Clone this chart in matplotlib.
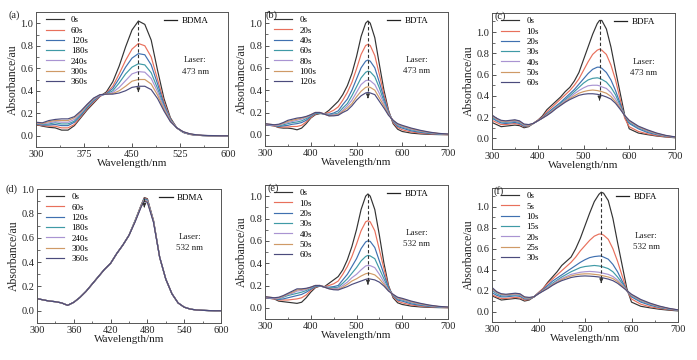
import matplotlib
matplotlib.use("Agg")
import matplotlib.pyplot as plt
from matplotlib.lines import Line2D
from matplotlib.ticker import MultipleLocator, FixedLocator

plt.rcParams['font.family'] = ['Liberation Serif', 'DejaVu Serif']

# ---------------- data ----------------
colors = ['#333333', '#e8705c', '#3f70b0', '#3f9aa6', '#a994d2', '#cf9a66', '#4b4b7c']

# (a) BDMA, 473 nm
wl_a = [300, 310, 320, 330, 340, 350, 360, 370, 380, 390, 400, 410, 420, 430, 440, 450,
        460, 470, 480, 490, 500, 510, 520, 530, 540, 550, 560, 570, 580, 590, 600]
labels_a = ['0s', '60s', '120s', '180s', '240s', '300s', '360s']
a_0 = [0.10, 0.085, 0.075, 0.07, 0.05, 0.05, 0.09, 0.16, 0.23, 0.29, 0.35, 0.39, 0.48, 0.62, 0.79, 0.94,
       1.02, 0.99, 0.85, 0.58, 0.33, 0.16, 0.07, 0.03, 0.012, 0.005, 0.002, 0.0, 0.0, 0.0, 0.0]
a_1 = [0.10, 0.09, 0.085, 0.085, 0.07, 0.07, 0.10, 0.17, 0.24, 0.30, 0.35, 0.38, 0.44, 0.55, 0.67, 0.77,
       0.82, 0.80, 0.70, 0.50, 0.30, 0.15, 0.07, 0.03, 0.013, 0.005, 0.002, 0.0, 0.0, 0.0, 0.0]
a_2 = [0.105, 0.095, 0.095, 0.10, 0.09, 0.09, 0.12, 0.18, 0.25, 0.31, 0.355, 0.375, 0.42, 0.51, 0.61, 0.69,
       0.73, 0.72, 0.63, 0.46, 0.28, 0.145, 0.07, 0.03, 0.014, 0.006, 0.002, 0.001, 0.0, 0.0, 0.0]
a_3 = [0.11, 0.10, 0.105, 0.115, 0.105, 0.105, 0.13, 0.19, 0.26, 0.32, 0.36, 0.37, 0.40, 0.47, 0.55, 0.61,
       0.64, 0.63, 0.56, 0.42, 0.26, 0.14, 0.07, 0.032, 0.015, 0.006, 0.002, 0.001, 0.0, 0.0, 0.0]
a_4 = [0.11, 0.105, 0.115, 0.125, 0.12, 0.12, 0.145, 0.20, 0.27, 0.325, 0.36, 0.37, 0.385, 0.43, 0.49, 0.55,
       0.57, 0.565, 0.51, 0.39, 0.25, 0.135, 0.07, 0.034, 0.016, 0.007, 0.003, 0.001, 0.0, 0.0, 0.0]
a_5 = [0.115, 0.11, 0.125, 0.135, 0.135, 0.135, 0.16, 0.21, 0.275, 0.33, 0.365, 0.37, 0.375, 0.40, 0.44, 0.485,
       0.50, 0.50, 0.46, 0.36, 0.235, 0.13, 0.07, 0.035, 0.017, 0.008, 0.003, 0.001, 0.0, 0.0, 0.0]
a_6 = [0.12, 0.115, 0.135, 0.145, 0.15, 0.15, 0.17, 0.22, 0.28, 0.335, 0.365, 0.37, 0.37, 0.38, 0.40, 0.43,
       0.44, 0.44, 0.41, 0.33, 0.22, 0.125, 0.07, 0.036, 0.018, 0.009, 0.004, 0.002, 0.001, 0.0, 0.0]

# (b) BDTA, 473 nm
wl_b = [300, 310, 320, 330, 340, 350, 360, 370, 380, 390, 400, 410, 420, 430, 440, 450, 460, 470,
        480, 490, 500, 510, 520, 525, 530, 540, 550, 560, 570, 580, 590, 600, 620, 640, 660, 680, 700]
labels_b = ['0s', '20s', '40s', '60s', '80s', '100s', '120s']
b_0 = [0.09, 0.085, 0.08, 0.065, 0.06, 0.06, 0.055, 0.045, 0.06, 0.10, 0.15, 0.18, 0.19, 0.19, 0.22, 0.26, 0.30, 0.36,
       0.44, 0.55, 0.70, 0.88, 1.00, 1.02, 1.00, 0.87, 0.63, 0.40, 0.22, 0.10, 0.05, 0.03, 0.015, 0.008, 0.004, 0.002, 0.001]
b_1 = [0.09, 0.085, 0.08, 0.07, 0.07, 0.07, 0.075, 0.075, 0.085, 0.115, 0.155, 0.185, 0.195, 0.19, 0.20, 0.22, 0.25, 0.31,
       0.38, 0.47, 0.59, 0.72, 0.80, 0.81, 0.80, 0.71, 0.54, 0.36, 0.21, 0.11, 0.065, 0.045, 0.025, 0.015, 0.008, 0.004, 0.002]
b_2 = [0.09, 0.088, 0.083, 0.075, 0.08, 0.085, 0.095, 0.10, 0.11, 0.13, 0.165, 0.19, 0.195, 0.185, 0.185, 0.195, 0.215, 0.27,
       0.32, 0.40, 0.50, 0.60, 0.66, 0.67, 0.66, 0.60, 0.47, 0.33, 0.20, 0.12, 0.075, 0.06, 0.035, 0.022, 0.012, 0.006, 0.003]
b_3 = [0.095, 0.09, 0.085, 0.08, 0.09, 0.10, 0.11, 0.115, 0.125, 0.145, 0.17, 0.195, 0.195, 0.185, 0.18, 0.185, 0.195, 0.24,
       0.28, 0.35, 0.43, 0.51, 0.56, 0.57, 0.565, 0.52, 0.42, 0.30, 0.19, 0.125, 0.085, 0.07, 0.045, 0.028, 0.016, 0.008, 0.004]
b_4 = [0.095, 0.09, 0.085, 0.085, 0.10, 0.11, 0.12, 0.13, 0.14, 0.155, 0.175, 0.20, 0.20, 0.185, 0.175, 0.18, 0.185, 0.22,
       0.26, 0.31, 0.38, 0.45, 0.485, 0.49, 0.485, 0.45, 0.37, 0.28, 0.185, 0.13, 0.09, 0.075, 0.05, 0.032, 0.019, 0.01, 0.005]
b_5 = [0.10, 0.095, 0.09, 0.09, 0.105, 0.12, 0.13, 0.14, 0.15, 0.16, 0.18, 0.20, 0.20, 0.185, 0.17, 0.175, 0.18, 0.21,
       0.24, 0.28, 0.34, 0.39, 0.425, 0.43, 0.425, 0.40, 0.33, 0.26, 0.18, 0.13, 0.095, 0.08, 0.055, 0.036, 0.022, 0.012, 0.006]
b_6 = [0.10, 0.095, 0.09, 0.095, 0.11, 0.13, 0.14, 0.15, 0.155, 0.165, 0.18, 0.20, 0.20, 0.185, 0.17, 0.17, 0.175, 0.20,
       0.22, 0.26, 0.31, 0.35, 0.375, 0.38, 0.375, 0.36, 0.30, 0.24, 0.175, 0.13, 0.10, 0.085, 0.06, 0.04, 0.024, 0.013, 0.007]

# (c) BDFA, 473 nm
wl_c = [300, 310, 320, 330, 340, 350, 360, 370, 380, 390, 400, 410, 420, 430, 440, 450, 460, 470, 480,
        490, 500, 510, 520, 530, 535, 540, 550, 560, 570, 580, 590, 600, 620, 640, 660, 680, 700]
labels_c = ['0s', '10s', '20s', '30s', '40s', '50s', '60s']
c_0 = [0.15, 0.13, 0.11, 0.115, 0.12, 0.125, 0.12, 0.10, 0.11, 0.14, 0.17, 0.21, 0.27, 0.31, 0.35, 0.39, 0.44, 0.48, 0.54,
       0.62, 0.74, 0.86, 0.98, 1.08, 1.11, 1.11, 1.03, 0.86, 0.64, 0.43, 0.22, 0.09, 0.05, 0.035, 0.022, 0.013, 0.006]
c_1 = [0.17, 0.15, 0.13, 0.13, 0.135, 0.14, 0.13, 0.11, 0.115, 0.14, 0.17, 0.20, 0.25, 0.29, 0.33, 0.37, 0.41, 0.45, 0.50,
       0.56, 0.64, 0.72, 0.79, 0.83, 0.84, 0.83, 0.79, 0.69, 0.55, 0.37, 0.19, 0.11, 0.065, 0.042, 0.026, 0.015, 0.008]
c_2 = [0.19, 0.165, 0.145, 0.14, 0.145, 0.15, 0.14, 0.115, 0.12, 0.14, 0.165, 0.195, 0.235, 0.27, 0.305, 0.34, 0.38, 0.42, 0.46,
       0.51, 0.56, 0.61, 0.65, 0.67, 0.67, 0.66, 0.62, 0.55, 0.45, 0.33, 0.21, 0.14, 0.09, 0.055, 0.035, 0.02, 0.01]
c_3 = [0.20, 0.175, 0.155, 0.15, 0.155, 0.16, 0.15, 0.12, 0.12, 0.14, 0.165, 0.19, 0.225, 0.26, 0.295, 0.33, 0.365, 0.40, 0.44,
       0.48, 0.52, 0.55, 0.565, 0.57, 0.565, 0.555, 0.53, 0.48, 0.41, 0.31, 0.215, 0.15, 0.10, 0.065, 0.04, 0.022, 0.011]
c_4 = [0.21, 0.18, 0.16, 0.155, 0.16, 0.165, 0.155, 0.125, 0.125, 0.14, 0.165, 0.19, 0.22, 0.255, 0.29, 0.32, 0.355, 0.385, 0.42,
       0.45, 0.475, 0.495, 0.50, 0.50, 0.495, 0.485, 0.47, 0.43, 0.37, 0.295, 0.215, 0.16, 0.105, 0.07, 0.043, 0.024, 0.012]
c_5 = [0.215, 0.185, 0.165, 0.16, 0.165, 0.17, 0.16, 0.13, 0.125, 0.14, 0.165, 0.19, 0.22, 0.25, 0.285, 0.315, 0.345, 0.375, 0.40,
       0.425, 0.44, 0.45, 0.455, 0.45, 0.445, 0.44, 0.425, 0.395, 0.345, 0.285, 0.215, 0.165, 0.11, 0.075, 0.046, 0.026, 0.013]
c_6 = [0.22, 0.19, 0.17, 0.165, 0.17, 0.175, 0.165, 0.135, 0.13, 0.14, 0.165, 0.19, 0.215, 0.245, 0.28, 0.31, 0.34, 0.365, 0.385,
       0.405, 0.415, 0.42, 0.42, 0.415, 0.41, 0.405, 0.39, 0.37, 0.33, 0.275, 0.215, 0.17, 0.115, 0.08, 0.05, 0.028, 0.014]

# (d) BDMA, 532 nm
wl_d = [300, 310, 320, 330, 340, 350, 360, 370, 380, 390, 400, 410, 420, 430, 440, 450, 460, 470,
        475, 480, 490, 500, 510, 520, 530, 540, 550, 560, 570, 580, 590, 600]
labels_d = ['0s', '60s', '120s', '180s', '240s', '300s', '360s']
d_0 = [0.10, 0.09, 0.08, 0.075, 0.065, 0.045, 0.07, 0.11, 0.16, 0.22, 0.28, 0.34, 0.39, 0.47, 0.54, 0.62, 0.74, 0.87,
       0.93, 0.92, 0.74, 0.44, 0.26, 0.14, 0.065, 0.03, 0.014, 0.007, 0.004, 0.002, 0.001, 0.001]
d_1 = [0.10, 0.09, 0.08, 0.075, 0.065, 0.045, 0.07, 0.11, 0.16, 0.22, 0.28, 0.34, 0.39, 0.47, 0.54, 0.62, 0.74, 0.87,
       0.925, 0.915, 0.74, 0.44, 0.26, 0.14, 0.065, 0.03, 0.014, 0.007, 0.004, 0.002, 0.001, 0.001]
d_2 = [0.10, 0.09, 0.08, 0.075, 0.065, 0.045, 0.07, 0.11, 0.16, 0.22, 0.28, 0.34, 0.39, 0.47, 0.54, 0.62, 0.74, 0.865,
       0.92, 0.91, 0.735, 0.44, 0.26, 0.14, 0.065, 0.03, 0.014, 0.007, 0.004, 0.002, 0.001, 0.001]
d_3 = [0.10, 0.09, 0.08, 0.075, 0.065, 0.045, 0.07, 0.11, 0.16, 0.22, 0.28, 0.34, 0.39, 0.47, 0.54, 0.62, 0.74, 0.865,
       0.915, 0.905, 0.735, 0.44, 0.26, 0.14, 0.065, 0.03, 0.014, 0.007, 0.004, 0.002, 0.001, 0.001]
d_4 = [0.10, 0.09, 0.08, 0.075, 0.065, 0.045, 0.07, 0.11, 0.16, 0.22, 0.28, 0.34, 0.39, 0.47, 0.54, 0.62, 0.735, 0.86,
       0.91, 0.90, 0.73, 0.44, 0.26, 0.14, 0.065, 0.03, 0.014, 0.007, 0.004, 0.002, 0.001, 0.001]
d_5 = [0.10, 0.09, 0.08, 0.075, 0.065, 0.045, 0.07, 0.11, 0.16, 0.22, 0.28, 0.34, 0.39, 0.47, 0.54, 0.62, 0.735, 0.86,
       0.905, 0.895, 0.73, 0.44, 0.26, 0.14, 0.065, 0.03, 0.014, 0.007, 0.004, 0.002, 0.001, 0.001]
d_6 = [0.10, 0.09, 0.08, 0.075, 0.065, 0.045, 0.07, 0.11, 0.16, 0.22, 0.28, 0.34, 0.39, 0.47, 0.54, 0.62, 0.73, 0.855,
       0.90, 0.89, 0.725, 0.44, 0.26, 0.14, 0.065, 0.03, 0.014, 0.007, 0.004, 0.002, 0.001, 0.001]

# (e) BDTA, 532 nm
wl_e = wl_b
labels_e = ['0s', '10s', '20s', '30s', '40s', '50s', '60s']
e_0 = [0.09, 0.085, 0.08, 0.06, 0.055, 0.05, 0.045, 0.04, 0.05, 0.09, 0.14, 0.18, 0.195, 0.19, 0.22, 0.25, 0.28, 0.34,
       0.43, 0.55, 0.70, 0.88, 1.00, 1.02, 1.00, 0.88, 0.65, 0.40, 0.20, 0.09, 0.045, 0.03, 0.015, 0.008, 0.004, 0.002, 0.001]
e_1 = [0.09, 0.085, 0.08, 0.07, 0.07, 0.07, 0.075, 0.08, 0.09, 0.115, 0.155, 0.185, 0.195, 0.19, 0.20, 0.215, 0.24, 0.30,
       0.37, 0.46, 0.57, 0.69, 0.77, 0.78, 0.77, 0.69, 0.52, 0.35, 0.19, 0.10, 0.06, 0.045, 0.025, 0.015, 0.008, 0.004, 0.002]
e_2 = [0.09, 0.088, 0.083, 0.075, 0.08, 0.09, 0.10, 0.11, 0.12, 0.14, 0.165, 0.19, 0.195, 0.185, 0.185, 0.19, 0.20, 0.25,
       0.30, 0.37, 0.44, 0.53, 0.59, 0.60, 0.595, 0.54, 0.42, 0.30, 0.18, 0.11, 0.07, 0.06, 0.035, 0.022, 0.012, 0.006, 0.003]
e_3 = [0.095, 0.09, 0.085, 0.08, 0.095, 0.11, 0.12, 0.13, 0.14, 0.155, 0.175, 0.195, 0.20, 0.185, 0.18, 0.18, 0.185, 0.22,
       0.26, 0.31, 0.36, 0.42, 0.46, 0.47, 0.465, 0.44, 0.35, 0.26, 0.17, 0.115, 0.08, 0.07, 0.045, 0.028, 0.016, 0.008, 0.004]
e_4 = [0.095, 0.09, 0.085, 0.085, 0.10, 0.12, 0.13, 0.15, 0.155, 0.165, 0.18, 0.20, 0.20, 0.185, 0.175, 0.172, 0.175, 0.20,
       0.23, 0.27, 0.30, 0.34, 0.375, 0.38, 0.378, 0.36, 0.30, 0.23, 0.16, 0.12, 0.085, 0.075, 0.05, 0.032, 0.019, 0.01, 0.005]
e_5 = [0.10, 0.095, 0.09, 0.09, 0.105, 0.125, 0.14, 0.16, 0.165, 0.17, 0.185, 0.20, 0.20, 0.185, 0.172, 0.166, 0.165, 0.185,
       0.21, 0.24, 0.26, 0.285, 0.305, 0.31, 0.308, 0.295, 0.26, 0.21, 0.155, 0.12, 0.09, 0.08, 0.055, 0.036, 0.022, 0.012, 0.006]
e_6 = [0.10, 0.095, 0.09, 0.095, 0.11, 0.13, 0.15, 0.17, 0.17, 0.175, 0.185, 0.20, 0.20, 0.185, 0.17, 0.162, 0.16, 0.175,
       0.19, 0.21, 0.225, 0.24, 0.255, 0.26, 0.258, 0.25, 0.23, 0.195, 0.15, 0.12, 0.095, 0.085, 0.06, 0.04, 0.024, 0.013, 0.007]

# (f) BDFA, 532 nm
wl_f = wl_c
labels_f = ['0s', '5s', '10s', '15s', '20s', '25s', '30s']
f_0 = [0.15, 0.13, 0.11, 0.115, 0.12, 0.125, 0.12, 0.10, 0.11, 0.14, 0.18, 0.22, 0.28, 0.33, 0.38, 0.44, 0.48, 0.52, 0.60,
       0.70, 0.82, 0.94, 1.05, 1.12, 1.14, 1.13, 1.06, 0.89, 0.66, 0.44, 0.22, 0.09, 0.05, 0.035, 0.022, 0.013, 0.006]
f_1 = [0.16, 0.14, 0.125, 0.125, 0.13, 0.135, 0.13, 0.11, 0.115, 0.14, 0.18, 0.22, 0.27, 0.31, 0.35, 0.39, 0.43, 0.47, 0.52,
       0.58, 0.63, 0.68, 0.72, 0.74, 0.74, 0.73, 0.69, 0.60, 0.48, 0.34, 0.20, 0.12, 0.07, 0.045, 0.03, 0.018, 0.01]
f_2 = [0.18, 0.155, 0.14, 0.14, 0.145, 0.15, 0.145, 0.12, 0.12, 0.14, 0.175, 0.21, 0.25, 0.29, 0.32, 0.35, 0.38, 0.41, 0.44,
       0.47, 0.495, 0.515, 0.525, 0.53, 0.53, 0.52, 0.50, 0.45, 0.38, 0.29, 0.20, 0.14, 0.09, 0.06, 0.038, 0.022, 0.012]
f_3 = [0.20, 0.17, 0.15, 0.15, 0.155, 0.16, 0.155, 0.125, 0.125, 0.14, 0.17, 0.20, 0.235, 0.27, 0.30, 0.33, 0.355, 0.38, 0.40,
       0.42, 0.43, 0.435, 0.44, 0.435, 0.43, 0.425, 0.41, 0.38, 0.33, 0.27, 0.20, 0.15, 0.10, 0.068, 0.043, 0.025, 0.013]
f_4 = [0.21, 0.18, 0.16, 0.155, 0.16, 0.165, 0.16, 0.13, 0.13, 0.14, 0.17, 0.20, 0.23, 0.26, 0.29, 0.315, 0.335, 0.355, 0.365,
       0.375, 0.38, 0.383, 0.38, 0.375, 0.37, 0.365, 0.355, 0.335, 0.30, 0.255, 0.20, 0.155, 0.105, 0.072, 0.046, 0.027, 0.014]
f_5 = [0.22, 0.185, 0.165, 0.16, 0.165, 0.17, 0.165, 0.135, 0.13, 0.14, 0.17, 0.20, 0.225, 0.255, 0.28, 0.305, 0.325, 0.34, 0.35,
       0.357, 0.36, 0.36, 0.355, 0.35, 0.345, 0.34, 0.33, 0.315, 0.285, 0.245, 0.20, 0.16, 0.11, 0.076, 0.049, 0.029, 0.015]
f_6 = [0.23, 0.19, 0.17, 0.165, 0.17, 0.175, 0.17, 0.14, 0.135, 0.14, 0.17, 0.195, 0.22, 0.25, 0.275, 0.295, 0.31, 0.325, 0.333,
       0.338, 0.34, 0.338, 0.335, 0.33, 0.325, 0.32, 0.31, 0.295, 0.27, 0.235, 0.20, 0.165, 0.115, 0.08, 0.052, 0.031, 0.016]

compounds = ['BDMA', 'BDTA', 'BDFA', 'BDMA', 'BDTA', 'BDFA']
lasers = ['473 nm', '473 nm', '473 nm', '532 nm', '532 nm', '532 nm']
panel_tags = ['(a)', '(b)', '(c)', '(d)', '(e)', '(f)']

panels = [
    (wl_a, [a_0, a_1, a_2, a_3, a_4, a_5, a_6], labels_a),
    (wl_b, [b_0, b_1, b_2, b_3, b_4, b_5, b_6], labels_b),
    (wl_c, [c_0, c_1, c_2, c_3, c_4, c_5, c_6], labels_c),
    (wl_d, [d_0, d_1, d_2, d_3, d_4, d_5, d_6], labels_d),
    (wl_e, [e_0, e_1, e_2, e_3, e_4, e_5, e_6], labels_e),
    (wl_f, [f_0, f_1, f_2, f_3, f_4, f_5, f_6], labels_f),
]

# ---------------- layout ----------------
W, H = 697, 360
boxes = [(36, 12, 228, 147), (265, 12, 448, 146), (492, 13, 675, 149),
         (37, 189, 221, 323), (265, 185, 448, 319), (492, 188, 678, 322)]
xlims = [(300, 600), (300, 700), (300, 700), (300, 600), (300, 700), (300, 700)]
xmajor = [75, 100, 100, 60, 100, 100]
ylims = [(-0.1, 1.1), (-0.1, 1.1), (-0.1, 1.18), (-0.1, 1.0), (-0.1, 1.1), (-0.1, 1.18)]
tag_pos = [(14, 15), (272, 15), (500, 16), (12, 189), (273, 188), (499, 191)]

fig = plt.figure(figsize=(W / 100, H / 100), dpi=100)
spine_c = '#555555'

for i, (wl, series, labels) in enumerate(panels):
    l, t, r, b = boxes[i]
    ax = fig.add_axes([l / W, 1 - b / H, (r - l) / W, (b - t) / H])
    handles = []
    for s, lab, col in zip(series, labels, colors):
        h, = ax.plot(wl, s, color=col, lw=0.85, label=lab)
        handles.append(h)
    ax.set_xlim(*xlims[i])
    ax.set_ylim(*ylims[i])
    ax.xaxis.set_major_locator(MultipleLocator(xmajor[i]))
    ax.xaxis.set_minor_locator(MultipleLocator(xmajor[i] / 2))
    ax.yaxis.set_major_locator(FixedLocator([0.0, 0.2, 0.4, 0.6, 0.8, 1.0]))
    ax.yaxis.set_minor_locator(FixedLocator([-0.1, 0.1, 0.3, 0.5, 0.7, 0.9, 1.1]))
    ax.yaxis.set_major_formatter(plt.FuncFormatter(lambda v, p: f'{v:.1f}'))
    ax.tick_params(which='both', direction='in', top=False, right=False, colors=spine_c,
                   labelcolor='#222222', labelsize=7.5, pad=2)
    ax.tick_params(which='major', length=3, width=0.7)
    ax.tick_params(which='minor', length=1.8, width=0.6)
    for sp in ax.spines.values():
        sp.set_color(spine_c)
        sp.set_linewidth(0.7)
    ax.set_xlabel('Wavelength/nm', fontsize=8, labelpad=0, color='#222222')
    ax.set_ylabel('Absorbance/au', fontsize=8.5, labelpad=1, color='#222222')

    leg = ax.legend(handles=handles, loc='upper left', bbox_to_anchor=(0.05, 0.97), frameon=False,
                    fontsize=6.5, handlelength=2.0, handletextpad=0.8, labelspacing=0.22,
                    borderpad=0, borderaxespad=0)
    ax.add_artist(leg)
    ax.legend(handles=[Line2D([], [], color='#222222', lw=0.9)], labels=[compounds[i]],
              loc='upper left', bbox_to_anchor=(0.665, 0.965), frameon=False, fontsize=6.5,
              handlelength=1.5, handletextpad=0.45, borderpad=0, borderaxespad=0)
    ax.text(0.83, 0.60, 'Laser:\n' + lasers[i], transform=ax.transAxes, ha='center', va='center',
            fontsize=6.5, linespacing=1.5, color='#222222')

    # dashed arrow at the peak of the first spectrum
    top = series[0]
    k = top.index(max(top))
    x_pk = wl[k]
    y0 = top[k]
    y1 = series[-1][k] - 0.05
    ax.plot([x_pk, x_pk], [y0, y1 + 0.02], ls=(0, (3, 2)), color='#333333', lw=0.8)
    ax.annotate('', xy=(x_pk, y1), xytext=(x_pk, y1 + 0.03),
                arrowprops=dict(arrowstyle='-|>', color='#333333', lw=0.8, mutation_scale=5))

    fig.text(tag_pos[i][0] / W, 1 - tag_pos[i][1] / H, panel_tags[i], ha='center', va='center',
             fontsize=7.5, color='#222222')

fig.savefig('out.png', dpi=100)
